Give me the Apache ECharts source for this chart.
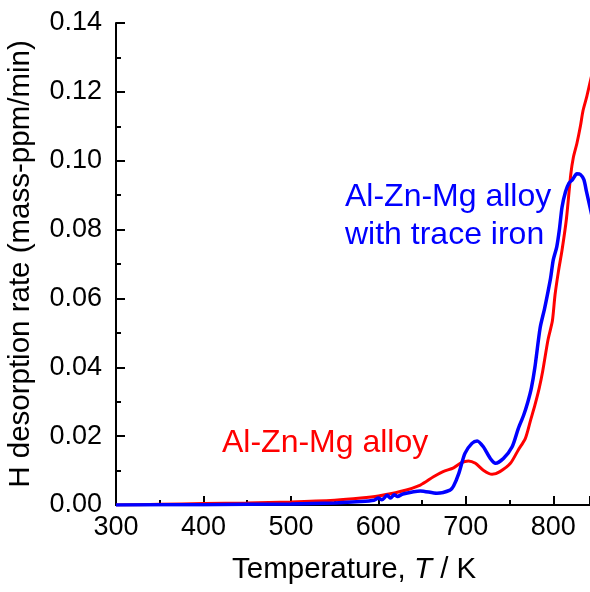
<!DOCTYPE html>
<html><head><meta charset="utf-8">
<script src="https://cdn.jsdelivr.net/npm/echarts@6/dist/echarts.min.js"></script>
<style>html,body{margin:0;padding:0;background:#fff}#c{width:590px;height:592px}</style>
</head><body><div id="c"></div>
<script>
const redT = [300,350,400,450,500,550,580,600,625,648,663,674,686,695,703,711,720,730,739,751,760,768,774,779,784,788,794,799,802,806,810,815,820,823,827,831,834,838,842,846];
const redV = [0.0000,0.0002,0.0004,0.0006,0.0009,0.0014,0.0020,0.0026,0.0039,0.0058,0.0082,0.0097,0.0108,0.0123,0.0128,0.0121,0.0101,0.0089,0.0097,0.0121,0.0160,0.0193,0.0246,0.0290,0.0340,0.0390,0.0480,0.0535,0.0610,0.0680,0.0740,0.0830,0.0960,0.1010,0.1050,0.1100,0.1145,0.1183,0.1227,0.1270];
const blueT = [300,400,500,550,580,595,600,604,610,614,618,622,628,648,667,682,686,692,699,707,713,720,728,734,743,753,760,766,771,775,779,785,790,794,797,800,804,807,810,814,818,822,827,831,835,838,842,846];
const blueV = [0.0000,0.0001,0.0003,0.0006,0.0010,0.0014,0.0020,0.0015,0.0028,0.0020,0.0030,0.0025,0.0032,0.0041,0.0034,0.0043,0.0055,0.0092,0.0150,0.0179,0.0186,0.0169,0.0135,0.0121,0.0135,0.0169,0.0222,0.0260,0.0300,0.0340,0.0400,0.0515,0.0570,0.0620,0.0660,0.0712,0.0750,0.0800,0.0865,0.0910,0.0935,0.0945,0.0962,0.0960,0.0945,0.0910,0.0865,0.0820];
const xTicks = [300,400,500,600,700,800];
const yTicks = [0.00,0.02,0.04,0.06,0.08,0.10,0.12,0.14];
const redLabel = 'Al-Zn-Mg alloy';
const blueLabel = ['Al-Zn-Mg alloy','with trace iron'];
const xTitle = 'Temperature, ';
const yTitle = 'H desorption rate (mass-ppm/min)';

const font = 'Liberation Sans, Arial, Helvetica, sans-serif';
const chart = echarts.init(document.getElementById('c'));
const pair = (t, v) => t.map((x, i) => [x, v[i]]);
chart.setOption({
  animation: false,
  backgroundColor: '#fff',
  grid: { left: 116, top: 23, right: 0, bottom: 87, containLabel: false, outerBoundsMode: 'none' },
  xAxis: [{
    type: 'value', min: 300, max: 842, interval: 100, position: 'bottom',
    axisLine: { show: true, onZero: false, lineStyle: { color: '#000', width: 2 } },
    axisTick: { show: true, inside: true, length: 9, lineStyle: { color: '#000', width: 2 } },
    minorTick: { show: true, splitNumber: 2, length: 5, lineStyle: { color: '#000', width: 2 } },
    splitLine: { show: false },
    axisLabel: { color: '#000', fontSize: 27, fontFamily: font, margin: 9,
      formatter: v => xTicks.includes(v) ? String(v) : '' }
  }, {
    type: 'value', min: 300, max: 842, position: 'top',
    axisLine: { show: true, lineStyle: { color: '#000', width: 2 } },
    axisTick: { show: false }, axisLabel: { show: false }, splitLine: { show: false }
  }],
  yAxis: {
    type: 'value', min: 0, max: 0.14, interval: 0.02,
    axisLine: { show: true, lineStyle: { color: '#000', width: 2 } },
    axisTick: { show: true, inside: true, length: 9, lineStyle: { color: '#000', width: 2 } },
    minorTick: { show: true, splitNumber: 2, length: 5, lineStyle: { color: '#000', width: 2 } },
    splitLine: { show: false },
    axisLabel: { color: '#000', fontSize: 27, fontFamily: font, margin: 14,
      formatter: v => yTicks.some(t => Math.abs(t - v) < 1e-9) ? v.toFixed(2) : '' },
    name: yTitle, nameLocation: 'middle', nameGap: 80, nameRotate: 90,
    nameTextStyle: { color: '#000', fontSize: 29.5, fontFamily: font }
  },
  series: [
    { type: 'line', data: pair(redT, redV), symbol: 'none', smooth: 0.25, clip: true,
      lineStyle: { color: '#ff0000', width: 3 }, z: 2 },
    { type: 'line', data: pair(blueT, blueV), symbol: 'none', smooth: 0.25, clip: true,
      lineStyle: { color: '#0000ff', width: 3.5 }, z: 3 }
  ],
  graphic: [
    { type: 'text', left: 222, top: 427, style: { text: redLabel, fill: '#ff0000', font: '32px ' + font } },
    { type: 'text', left: 345, top: 181, style: { text: blueLabel[0], fill: '#0000ff', font: '32px ' + font } },
    { type: 'text', left: 345, top: 219, style: { text: blueLabel[1], fill: '#0000ff', font: '32px ' + font } },
    { type: 'text', left: 232, top: 555, style: {
        rich: { n: { fontSize: 29.5, fontFamily: font, fill: '#000' }, i: { fontSize: 29.5, fontStyle: 'italic', fontFamily: font, fill: '#000' } },
        text: '{n|' + xTitle + '}{i|T}{n| / K}' } }
  ]
});
</script></body></html>
